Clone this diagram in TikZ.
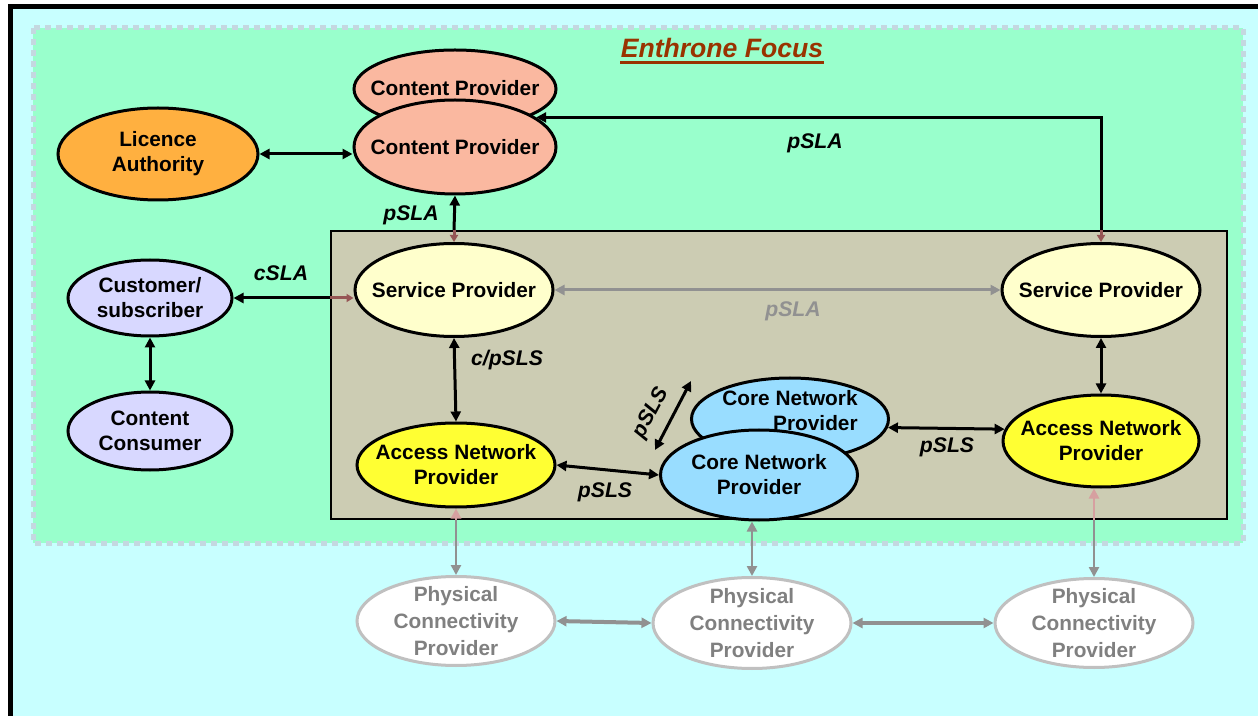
\documentclass[tikz,border=0pt]{standalone}
\usepackage{fontspec}
\setmainfont{Liberation Sans}
\usetikzlibrary{shapes.geometric,arrows.meta}

\definecolor{skycyan}{RGB}{200,255,255}
\definecolor{focusgreen}{RGB}{153,255,204}
\definecolor{focusedge}{RGB}{196,216,224}
\definecolor{corebox}{RGB}{204,204,179}
\definecolor{contentfill}{RGB}{250,184,160}
\definecolor{licencefill}{RGB}{255,176,64}
\definecolor{custfill}{RGB}{216,216,255}
\definecolor{servfill}{RGB}{255,255,204}
\definecolor{accessfill}{RGB}{255,255,51}
\definecolor{corefill}{RGB}{153,221,255}
\definecolor{physedge}{RGB}{192,192,192}
\definecolor{phystext}{RGB}{128,128,128}
\definecolor{greyarrow}{RGB}{145,145,145}
\definecolor{brownarrow}{RGB}{150,85,85}
\definecolor{pinkarrow}{RGB}{214,160,160}
\definecolor{titlered}{RGB}{153,51,0}

\begin{document}
\begin{tikzpicture}[x=0.5pt,y=-0.5pt,
  prov/.style={ellipse, draw=black, line width=1.5pt, inner sep=-40pt, align=center,
    font=\bfseries\fontsize{10.4}{12.5}\selectfont},
  provtext/.style={align=center, font=\bfseries\fontsize{10.4}{12.5}\selectfont},
  phys/.style={ellipse, draw=physedge, line width=1.5pt, fill=white, inner sep=-40pt,
    align=center, text=phystext, font=\bfseries\fontsize{10.4}{13.5}\selectfont,
    minimum width=99pt, minimum height=45pt},
  blk/.style={draw=black, line width=1.5pt},
  gry/.style={draw=greyarrow, line width=1.3pt},
  tip/.tip={Triangle[length=5pt,width=5pt]},
  smalltip/.tip={Triangle[length=3.5pt,width=4pt]},
  lbl/.style={font=\bfseries\itshape\fontsize{10.6}{12.5}\selectfont},
]
\useasboundingbox (0,0) rectangle (1258,716);
\clip (0,0) rectangle (1258,716);

% backdrop and outer frame
\fill[white] (0,0) rectangle (1258,716);
\fill[skycyan] (10,6) rectangle (1300,760);
\draw[line width=2.5pt] (10.5,6.5) rectangle (1300,760);

% Enthrone focus area
\fill[focusgreen] (33,28) rectangle (1243,543);
\draw[focusedge, line width=2.5pt, dash pattern=on 3pt off 2.5pt] (33,28) rectangle (1243,543);
\node[text=titlered, inner sep=0pt, font=\bfseries\itshape\fontsize{13.3}{16}\selectfont] (title) at (722,48) {Enthrone Focus};
\draw[titlered, line width=1.4pt] ([yshift=-2.6pt]title.base west) -- ([yshift=-2.6pt]title.base east);

% provider domain box
\node[draw=black, line width=0.8pt, fill=corebox, inner sep=0pt, anchor=north west,
      minimum width=448pt, minimum height=144pt] (core) at (330,230) {};

% parties
\node[prov, fill=contentfill, minimum width=101pt, minimum height=39pt] (cpb) at (455,89) {};
\node[prov, fill=contentfill, minimum width=101pt, minimum height=47pt] (cpf) at (455,147) {Content Provider};
\node[provtext] (cpbtext) at (455,88) {Content Provider};
\node[prov, fill=licencefill, minimum width=100pt, minimum height=46pt] (la) at (158,154) {Licence\\Authority};
\node[prov, fill=custfill, minimum width=82pt, minimum height=38pt] (cust) at (150,298) {Customer/\\subscriber};
\node[prov, fill=custfill, minimum width=82pt, minimum height=39pt] (cons) at (150,431) {Content\\Consumer};
\node[prov, fill=servfill, minimum width=99pt, minimum height=46.5pt] (spL) at (454,290) {Service Provider};
\node[prov, fill=servfill, minimum width=99pt, minimum height=46.5pt] (spR) at (1101,290) {Service Provider};
\node[prov, fill=accessfill, minimum width=99pt, minimum height=42pt] (anL) at (456,465) {Access Network\\Provider};
\node[prov, fill=corefill, minimum width=98.5pt, minimum height=41pt] (coreB) at (790,419) {};
\node[provtext, align=right] (coreBtext) at (790,411) {Core Network\\Provider};
\node[prov, fill=corefill, minimum width=98.5pt, minimum height=45pt] (coreF) at (759,475) {Core Network\\Provider};
\node[prov, fill=accessfill, minimum width=98pt, minimum height=46pt] (anR) at (1101,441) {Access Network\\Provider};

\node[phys, minimum height=44.5pt] (physL) at (456,621) {Physical\\Connectivity\\Provider};
\node[phys, minimum height=45.5pt] (physM) at (752,623) {Physical\\Connectivity\\Provider};
\node[phys, minimum height=44.5pt] (physR) at (1094,623) {Physical\\Connectivity\\Provider};

% agreements among parties
\draw[blk, tip-tip] (la.east) -- (cpf.west |- la.east);
\draw[blk, tip-] (cpf.20) -| (spR.north |- core.north);
\draw[brownarrow, line width=1.5pt, -smalltip] (spR.north |- core.north) -- (spR.north);
\node[lbl] (lblTop) at (815,143) {pSLA};

\draw[blk, -tip] (spL.north |- core.north) -- (cpf.south);
\draw[brownarrow, line width=1.5pt, -smalltip] (spL.north |- core.north) -- (spL.north);
\node[lbl] (lblUp) at (411,215) {pSLA};

\draw[blk, tip-] (cust.east) -- (core.west |- cust.east);
\draw[brownarrow, line width=1.5pt, -smalltip] (core.west |- cust.east) -- (spL.west |- cust.east);
\node[lbl] (lblC) at (281,273) {cSLA};

\draw[blk, tip-tip] (cust.south) -- (cons.north);

\draw[gry, line width=1.5pt, tip-tip] (spL.east) -- (spR.west);
\node[lbl, text=greyarrow] (lblMid) at (793,311) {pSLA};

\draw[blk, tip-tip] (spL.south) -- (anL.north);
\node[lbl] (lblCP) at (507,360) {c/pSLS};

\draw[blk, tip-tip] (anL.east) -- (coreF.west);
\node[lbl] (lblAC) at (605,492) {pSLS};

\coordinate (diagA) at (655,450);
\coordinate (diagB) at (691,381);
\draw[blk, tip-tip] (diagA) -- (diagB);
\node[lbl, rotate=62] (lblDiag) at (651,413) {pSLS};

\draw[blk, tip-tip] (coreB.-5) -- (anR.173);
\node[lbl] (lblCA) at (947,447) {pSLS};

\draw[blk, tip-tip] (spR.south) -- (anR.north);

% physical layer links
\draw[gry, tip-] (physL.north) -- (anL.south |- core.south);
\draw[pinkarrow, line width=1.3pt, -tip] (anL.south |- core.south) -- (anL.south);
\draw[gry, tip-tip] (physM.north) -- (physM.north |- coreF.south);
\draw[gry, tip-] (physR.north) -- (physR.north |- core.south);
\draw[pinkarrow, line width=1.3pt, -tip] (physR.north |- core.south) -- (physR.north |- anR.south);
\draw[gry, line width=2pt, tip-tip] (physL.east) -- (physM.west);
\draw[gry, line width=2pt, tip-tip] (physM.east) -- (physR.west);
\end{tikzpicture}
\end{document}
